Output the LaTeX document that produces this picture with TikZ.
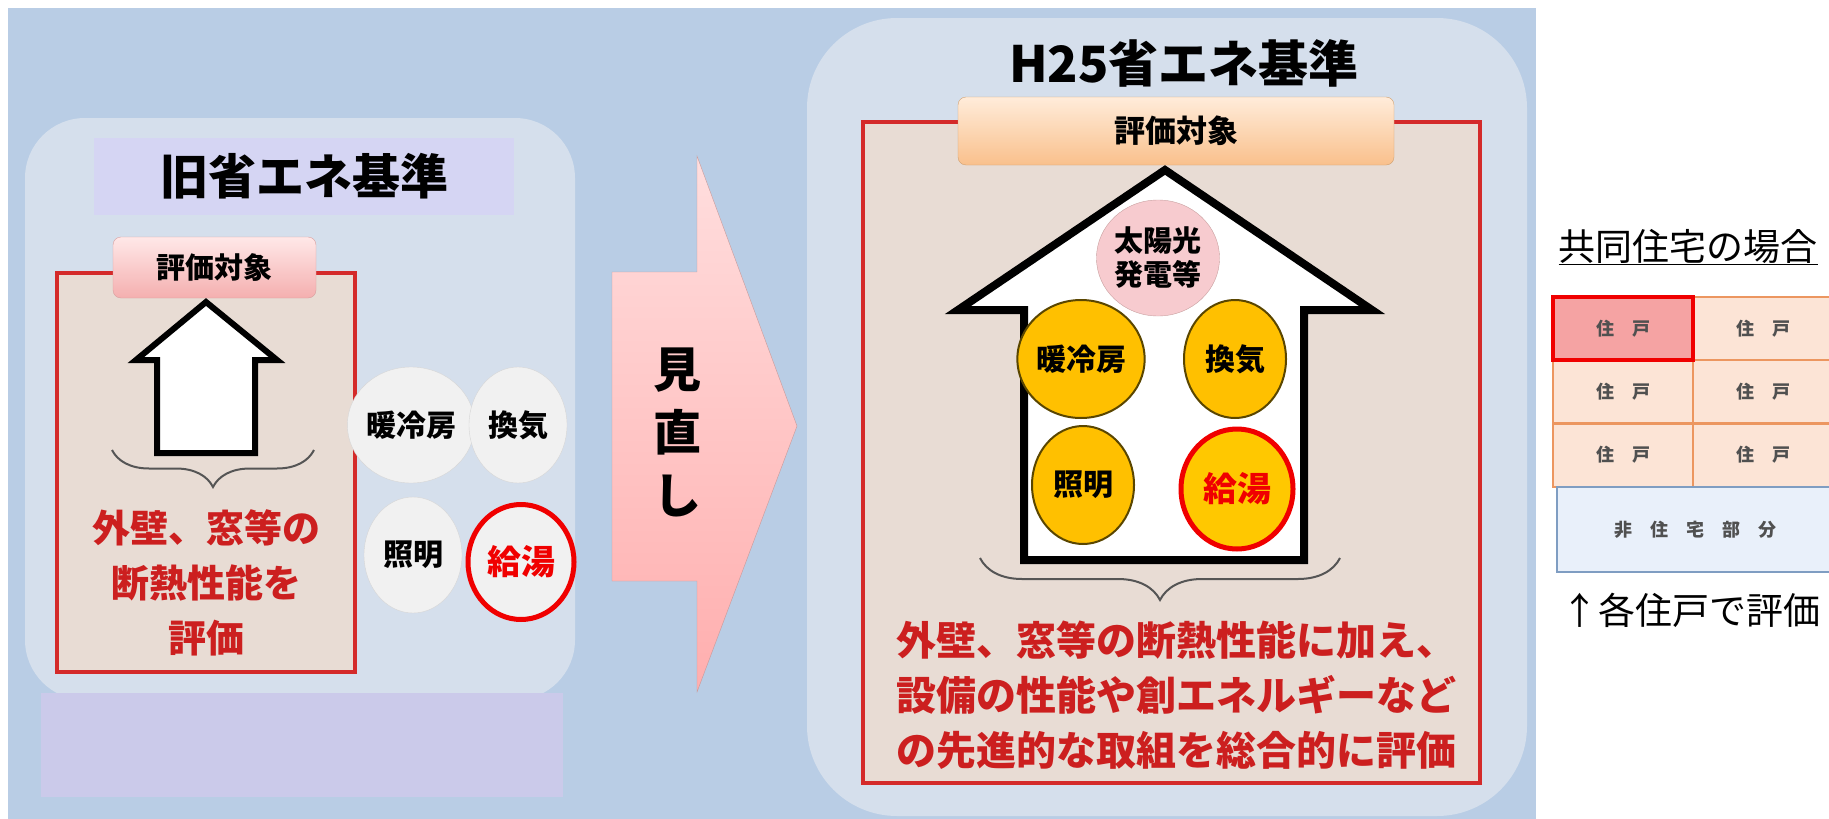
\documentclass[tikz,border=0pt]{standalone}
\usepackage{fontspec}
\setmainfont{Noto Sans CJK JP}
\usetikzlibrary{shapes.geometric, decorations.pathreplacing}

\definecolor{bgblue}{HTML}{B9CDE5}
\definecolor{panelblue}{HTML}{D5DFEC}
\definecolor{titlelav}{HTML}{D5D5F3}
\definecolor{lowerlav}{HTML}{CBCAEA}
\definecolor{boxred}{HTML}{D42A2A}
\definecolor{boxbeige}{HTML}{E8DCD4}
\definecolor{tabpinktop}{HTML}{FFE8E8}
\definecolor{tabpinkbot}{HTML}{F4AFAF}
\definecolor{tabpinkline}{HTML}{D9A0A0}
\definecolor{taborangetop}{HTML}{FFECDA}
\definecolor{taborangebot}{HTML}{F9C08C}
\definecolor{taborangeline}{HTML}{D0A070}
\definecolor{bubblegray}{HTML}{F1F1F1}
\definecolor{bubblegrayline}{HTML}{D6D6D6}
\definecolor{bubbleyellow}{HTML}{FFC000}
\definecolor{bubbleyellowline}{HTML}{5A4600}
\definecolor{bubblepink}{HTML}{F7CBCF}
\definecolor{bubblepinkline}{HTML}{C9A0A0}
\definecolor{hotred}{HTML}{F00000}
\definecolor{hotyellow}{HTML}{FFC800}
\definecolor{textred}{HTML}{CC1F1F}
\definecolor{arrowtop}{HTML}{FFDEDE}
\definecolor{arrowbot}{HTML}{FFAEAE}
\definecolor{arrowline}{HTML}{C89A9A}
\definecolor{bracegray}{HTML}{555555}
\definecolor{cellbeige}{HTML}{FCE4D6}
\definecolor{cellline}{HTML}{EC9660}
\definecolor{cellhl}{HTML}{F5A3A3}
\definecolor{shopfill}{HTML}{E9F0FA}
\definecolor{shopline}{HTML}{7F9DC2}
\definecolor{unitgray}{HTML}{505050}

\begin{document}
\begin{tikzpicture}[x=1pt, y=-1pt,
      panel/.style = { fill=panelblue },
      target/.style = { draw=boxred, line width=4pt, fill=boxbeige },
      tab-pink/.style = {
        rectangle, rounded corners=8pt, draw=tabpinkline, top color=tabpinktop,
        bottom color=tabpinkbot, minimum width=203pt, minimum height=61pt,
        font=\bfseries\fontsize{29}{29}\selectfont },
      tab-orange/.style = {
        rectangle, rounded corners=8pt, draw=taborangeline, top color=taborangetop,
        bottom color=taborangebot, minimum width=436pt, minimum height=68pt,
        font=\bfseries\fontsize{31}{31}\selectfont },
      house-line/.style = { draw=black, fill=white, line width=6pt },
      bubble/.style = {
        ellipse, inner sep=0pt, minimum width=98pt, minimum height=116pt,
        fill=bubblegray, draw=bubblegrayline,
        font=\bfseries\fontsize{30}{30}\selectfont },
      bubble-yellow/.style = {
        bubble, fill=bubbleyellow, draw=bubbleyellowline, line width=2pt,
        minimum width=102pt, minimum height=118pt },
      bubble-pink/.style = {
        bubble, fill=bubblepink, draw=bubblepinkline, minimum width=100pt,
        minimum height=116pt, align=center,
        font=\bfseries\fontsize{29}{34}\selectfont },
      hot-water/.style = {
        line width=5pt, draw=hotred, text=hotred,
        font=\bfseries\fontsize{34}{34}\selectfont },
      red-text/.style = {
        text=textred, align=center, font=\bfseries\fontsize{38}{55}\selectfont },
      line-brace/.style = { draw=bracegray, line width=2pt, decorate },
      cell/.style = {
        rectangle, draw=cellline, line width=2pt, fill=cellbeige,
        minimum width=140pt, minimum height=63pt, text=unitgray,
        font=\bfseries\fontsize{18}{18}\selectfont },
      cell-own/.style = { cell, draw=hotred, line width=4pt, fill=cellhl },
      cell-shop/.style = {
        cell, draw=shopline, fill=shopfill, minimum width=276pt,
        minimum height=85pt }]
    \fill[white] (0,0) rectangle (1829,819);
    \useasboundingbox (0,0) rectangle (1829,819);
    \fill[bgblue] (8,8) rectangle (1536,819);
    \fill[panel, rounded corners=60pt] (25,118) rectangle (575,700);
    \fill[panel, rounded corners=90pt] (807,18) rectangle (1527,816);

    % old standard
    \node [fill=titlelav, minimum width=420pt, minimum height=77pt,
      font=\bfseries\fontsize{48}{48}\selectfont] (oldtitle) at (304, 176.5) {旧省エネ基準};
    \fill[lowerlav] (41,693) rectangle (563,797);
    \draw[target] (57,273) rectangle (355,672);
    \node [tab-pink] (oldtab) at (214.5, 267.5) {評価対象};
    \draw[house-line] (206,302) -- (277,360) -- (255,360) -- (255,453)
      -- (157,453) -- (157,360) -- (136,360) -- cycle;
    \draw[line-brace, decoration={brace, mirror, amplitude=37pt}] (112,450) -- (314,450);
    \node [red-text] (oldtext) at (206, 583) {外壁、窓等の\\断熱性能を\\評価};
    \node [bubble] (oldheat) at (411, 425) {暖冷房};
    \node [bubble] (oldvent) at (518, 425) {換気};
    \node [bubble] (oldlight) at (413, 555) {照明};
    \node [bubble, hot-water, minimum width=106pt, minimum height=115pt]
      (oldwater) at (521, 562) {給湯};

    % review arrow
    \draw[draw=arrowline, top color=arrowtop, bottom color=arrowbot]
      (612,272) -- (697,272) -- (697,156) -- (797,426) -- (697,692)
      -- (697,581) -- (612,581) -- cycle;
    \node [align=center, font=\bfseries\fontsize{48}{63}\selectfont]
      (review) at (677, 432) {見\\直\\し};

    % H25 standard
    \node [font=\bfseries\fontsize{50}{50}\selectfont] (newtitle) at (1184, 63) {H25省エネ基準};
    \draw[target] (863,122) rectangle (1480,783);
    \node [tab-orange] (newtab) at (1176, 131) {評価対象};
    \draw[house-line, line width=8pt] (1165,170) -- (1372,310) -- (1304,310)
      -- (1304,560) -- (1024,560) -- (1024,310) -- (958,310) -- cycle;
    \node [bubble-pink] (solar) at (1158, 258) {太陽光\\発電等};
    \node [bubble-yellow] (newheat) at (1081, 359) {暖冷房};
    \node [bubble-yellow] (newvent) at (1235, 359) {換気};
    \node [bubble-yellow] (newlight) at (1083, 485) {照明};
    \node [bubble-yellow, hot-water, fill=hotyellow, minimum width=112pt,
      minimum height=120pt] (newwater) at (1237, 489) {給湯};
    \draw[line-brace, decoration={brace, mirror, amplitude=42pt}] (980,558) -- (1340,558);
    \node [red-text, font=\bfseries\fontsize{40}{55}\selectfont] (newtext) at (1176, 695)
      {外壁、窓等の断熱性能に加え、\\設備の性能や創エネルギーなど\\の先進的な取組を総合的に評価};

    % condominium case
    \node [font=\fontsize{37}{37}\selectfont] (condo) at (1688, 247) {\underline{共同住宅の場合}};
    \node [cell] (unit12) at (1763, 328.5) {住　戸};
    \node [cell] (unit21) at (1623, 391.5) {住　戸};
    \node [cell] (unit22) at (1763, 391.5) {住　戸};
    \node [cell] (unit31) at (1623, 455) {住　戸};
    \node [cell] (unit32) at (1763, 455) {住　戸};
    \node [cell-shop] (shop) at (1695, 529.5) {非　住　宅　部　分};
    \node [cell-own] (unit11) at (1623, 328.5) {住　戸};
    \node [font=\fontsize{37}{37}\selectfont] (note) at (1691, 610) {↑各住戸で評価};
  \end{tikzpicture}
\end{document}
